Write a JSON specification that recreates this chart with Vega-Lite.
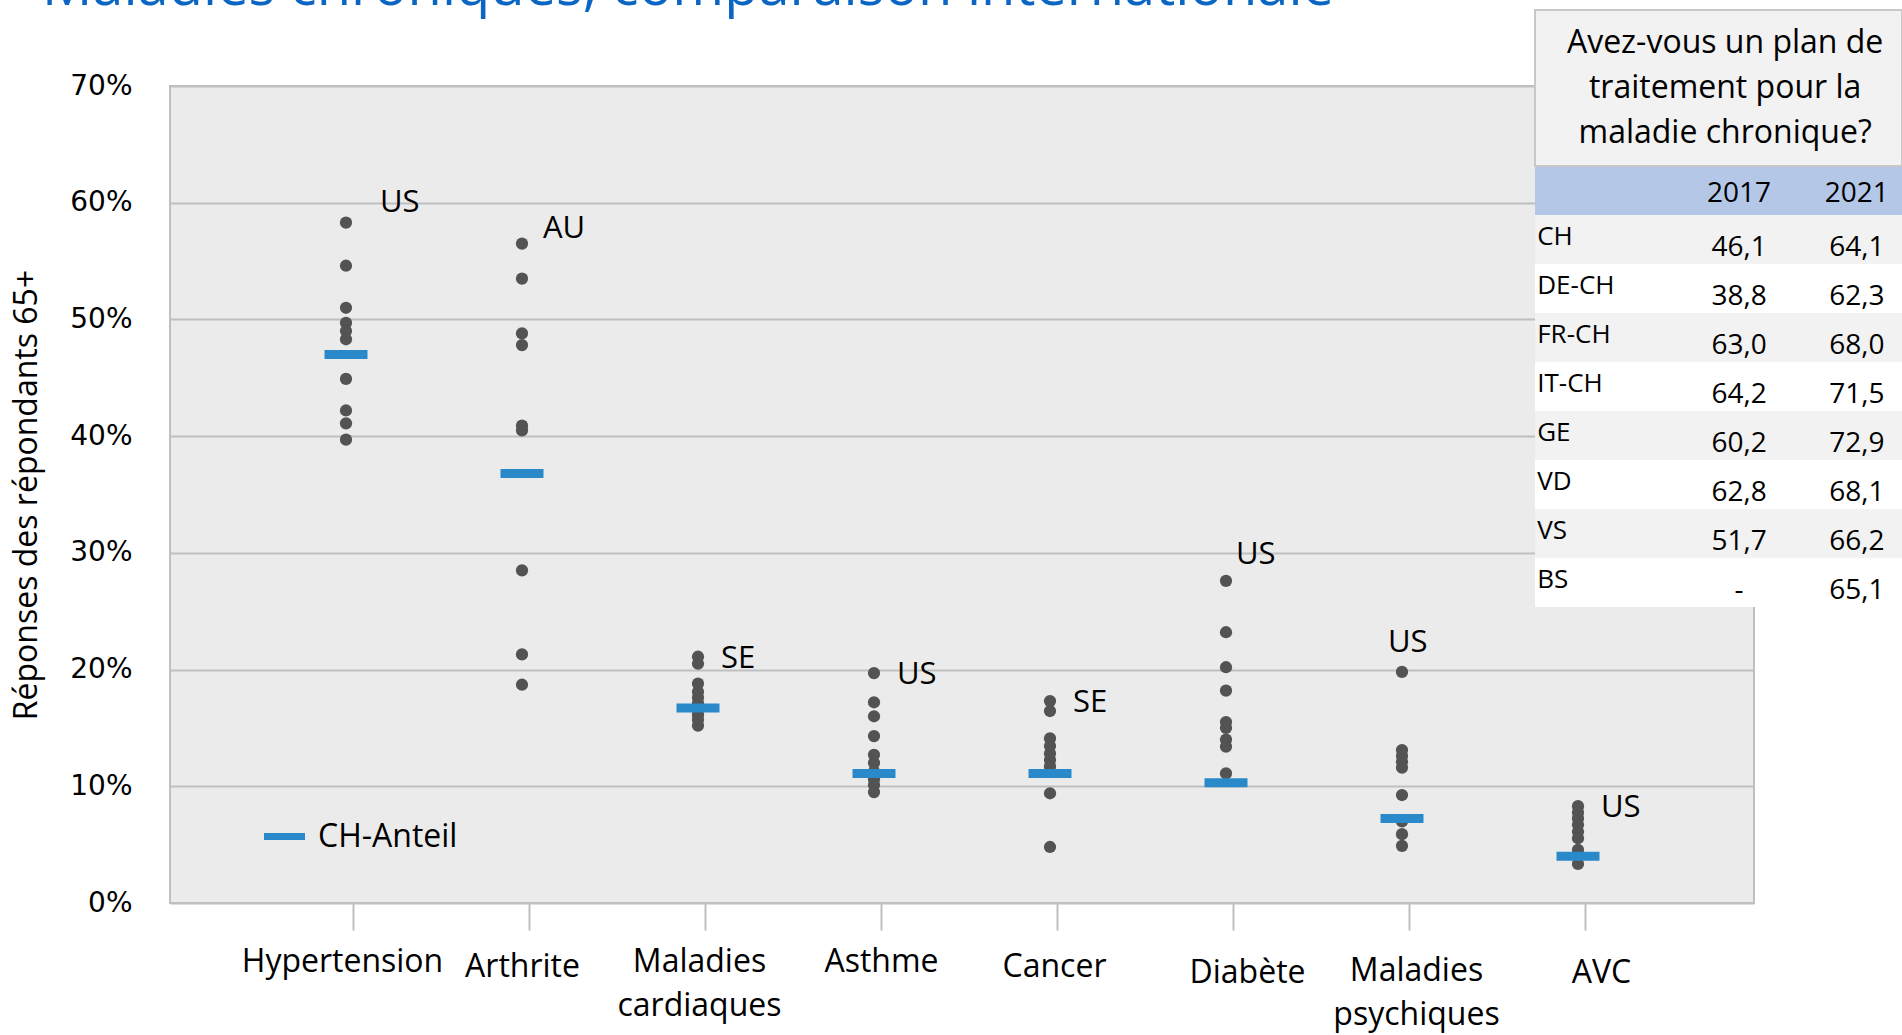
{
  "$schema": "https://vega.github.io/schema/vega-lite/v6.json",
  "width": 1584,
  "height": 817,
  "autosize": {"type": "none"},
  "padding": {"left": 170, "top": 86, "right": 148, "bottom": 132},
  "background": "white",
  "title": {
    "text": "Maladies chroniques, comparaison internationale",
    "anchor": "start",
    "frame": "group",
    "dx": -128,
    "dy": 52,
    "font": "Open Sans",
    "fontSize": 56,
    "fontWeight": "normal",
    "color": "#0a66c2",
    "baseline": "alphabetic",
    "offset": 0
  },
  "config": {
    "view": {"fill": "#ebebeb", "stroke": "#bfbfbf", "strokeWidth": 2},
    "font": "Open Sans"
  },
  "datasets": {
    "pays": [
      {"maladie": "Hypertension", "valeur": 0.583, "pays": "US"},
      {"maladie": "Hypertension", "valeur": 0.546},
      {"maladie": "Hypertension", "valeur": 0.510},
      {"maladie": "Hypertension", "valeur": 0.497},
      {"maladie": "Hypertension", "valeur": 0.490},
      {"maladie": "Hypertension", "valeur": 0.483},
      {"maladie": "Hypertension", "valeur": 0.449},
      {"maladie": "Hypertension", "valeur": 0.422},
      {"maladie": "Hypertension", "valeur": 0.411},
      {"maladie": "Hypertension", "valeur": 0.397},
      {"maladie": "Arthrite", "valeur": 0.565, "pays": "AU"},
      {"maladie": "Arthrite", "valeur": 0.535},
      {"maladie": "Arthrite", "valeur": 0.488},
      {"maladie": "Arthrite", "valeur": 0.478},
      {"maladie": "Arthrite", "valeur": 0.409},
      {"maladie": "Arthrite", "valeur": 0.405},
      {"maladie": "Arthrite", "valeur": 0.285},
      {"maladie": "Arthrite", "valeur": 0.213},
      {"maladie": "Arthrite", "valeur": 0.187},
      {"maladie": "Maladies cardiaques", "valeur": 0.211, "pays": "SE"},
      {"maladie": "Maladies cardiaques", "valeur": 0.205},
      {"maladie": "Maladies cardiaques", "valeur": 0.188},
      {"maladie": "Maladies cardiaques", "valeur": 0.181},
      {"maladie": "Maladies cardiaques", "valeur": 0.176},
      {"maladie": "Maladies cardiaques", "valeur": 0.171},
      {"maladie": "Maladies cardiaques", "valeur": 0.165},
      {"maladie": "Maladies cardiaques", "valeur": 0.161},
      {"maladie": "Maladies cardiaques", "valeur": 0.157},
      {"maladie": "Maladies cardiaques", "valeur": 0.152},
      {"maladie": "Asthme", "valeur": 0.197, "pays": "US"},
      {"maladie": "Asthme", "valeur": 0.172},
      {"maladie": "Asthme", "valeur": 0.160},
      {"maladie": "Asthme", "valeur": 0.143},
      {"maladie": "Asthme", "valeur": 0.127},
      {"maladie": "Asthme", "valeur": 0.120},
      {"maladie": "Asthme", "valeur": 0.1125},
      {"maladie": "Asthme", "valeur": 0.106},
      {"maladie": "Asthme", "valeur": 0.101},
      {"maladie": "Asthme", "valeur": 0.095},
      {"maladie": "Cancer", "valeur": 0.173, "pays": "SE"},
      {"maladie": "Cancer", "valeur": 0.1645},
      {"maladie": "Cancer", "valeur": 0.141},
      {"maladie": "Cancer", "valeur": 0.1345},
      {"maladie": "Cancer", "valeur": 0.128},
      {"maladie": "Cancer", "valeur": 0.1225},
      {"maladie": "Cancer", "valeur": 0.117},
      {"maladie": "Cancer", "valeur": 0.1125},
      {"maladie": "Cancer", "valeur": 0.094},
      {"maladie": "Cancer", "valeur": 0.048},
      {"maladie": "Diabète", "valeur": 0.276, "pays": "US"},
      {"maladie": "Diabète", "valeur": 0.232},
      {"maladie": "Diabète", "valeur": 0.202},
      {"maladie": "Diabète", "valeur": 0.182},
      {"maladie": "Diabète", "valeur": 0.155},
      {"maladie": "Diabète", "valeur": 0.150},
      {"maladie": "Diabète", "valeur": 0.140},
      {"maladie": "Diabète", "valeur": 0.134},
      {"maladie": "Diabète", "valeur": 0.111},
      {"maladie": "Maladies psychiques", "valeur": 0.198, "pays": "US"},
      {"maladie": "Maladies psychiques", "valeur": 0.131},
      {"maladie": "Maladies psychiques", "valeur": 0.126},
      {"maladie": "Maladies psychiques", "valeur": 0.121},
      {"maladie": "Maladies psychiques", "valeur": 0.116},
      {"maladie": "Maladies psychiques", "valeur": 0.0925},
      {"maladie": "Maladies psychiques", "valeur": 0.070},
      {"maladie": "Maladies psychiques", "valeur": 0.059},
      {"maladie": "Maladies psychiques", "valeur": 0.049},
      {"maladie": "AVC", "valeur": 0.083, "pays": "US"},
      {"maladie": "AVC", "valeur": 0.0775},
      {"maladie": "AVC", "valeur": 0.0725},
      {"maladie": "AVC", "valeur": 0.067},
      {"maladie": "AVC", "valeur": 0.061},
      {"maladie": "AVC", "valeur": 0.0555},
      {"maladie": "AVC", "valeur": 0.0455},
      {"maladie": "AVC", "valeur": 0.0335}
    ],
    "ch": [
      {"maladie": "Hypertension", "valeur": 0.470},
      {"maladie": "Arthrite", "valeur": 0.368},
      {"maladie": "Maladies cardiaques", "valeur": 0.167},
      {"maladie": "Asthme", "valeur": 0.111},
      {"maladie": "Cancer", "valeur": 0.111},
      {"maladie": "Diabète", "valeur": 0.103},
      {"maladie": "Maladies psychiques", "valeur": 0.0725},
      {"maladie": "AVC", "valeur": 0.040}
    ],
    "tableau": [
      {"region": "hdr", "a2017": "2017", "a2021": "2021"},
      {"region": "CH", "a2017": "46,1", "a2021": "64,1"},
      {"region": "DE-CH", "a2017": "38,8", "a2021": "62,3"},
      {"region": "FR-CH", "a2017": "63,0", "a2021": "68,0"},
      {"region": "IT-CH", "a2017": "64,2", "a2021": "71,5"},
      {"region": "GE", "a2017": "60,2", "a2021": "72,9"},
      {"region": "VD", "a2017": "62,8", "a2021": "68,1"},
      {"region": "VS", "a2017": "51,7", "a2021": "66,2"},
      {"region": "BS", "a2017": "-", "a2021": "65,1"}
    ],
    "titreTableau": [
      {"ligne": 1, "texte": "Avez-vous un plan de"},
      {"ligne": 2, "texte": "traitement pour la"},
      {"ligne": 3, "texte": "maladie chronique?"}
    ]
  },
  "layer": [
    {
      "encoding": {
        "x": {
          "field": "maladie",
          "type": "nominal",
          "scale": {
            "type": "point",
            "padding": 1,
            "domain": ["Hypertension", "Arthrite", "Maladies cardiaques", "Asthme", "Cancer", "Diabète", "Maladies psychiques", "AVC"]
          },
          "axis": {
            "title": null,
            "grid": false,
            "domain": false,
            "ticks": true,
            "tickSize": 27,
            "tickColor": "#bfbfbf",
            "tickWidth": 2,
            "tickOffset": 7,
            "labelFont": "Open Sans",
            "labelFontSize": 32,
            "labelColor": "#000000",
            "labelPadding": {
              "condition": [
                {"test": "datum.value == 'Arthrite' || datum.value == 'Cancer'", "value": 21},
                {"test": "datum.value == 'Diabète' || datum.value == 'AVC'", "value": 27},
                {"test": "datum.value == 'Maladies psychiques'", "value": 25}
              ],
              "value": 16
            },
            "labelOffset": {
              "condition": [
                {"test": "datum.value == 'Hypertension'", "value": -11},
                {"test": "datum.value == 'Arthrite'", "value": -7},
                {"test": "datum.value == 'Maladies cardiaques'", "value": -6},
                {"test": "datum.value == 'Asthme'", "value": 0},
                {"test": "datum.value == 'Cancer'", "value": -3},
                {"test": "datum.value == 'Diabète'", "value": 14},
                {"test": "datum.value == 'Maladies psychiques'", "value": 7}
              ],
              "value": 16
            },
            "labelLineHeight": 44,
            "labelAngle": 0,
            "labelLimit": 500,
            "labelOverlap": false,
            "labelBound": false,
            "labelFlush": false,
            "labelExpr": "datum.label == 'Maladies cardiaques' ? ['Maladies', 'cardiaques'] : datum.label == 'Maladies psychiques' ? ['Maladies', 'psychiques'] : datum.label"
          }
        },
        "y": {
          "field": "valeur",
          "type": "quantitative",
          "scale": {"domain": [0, 0.7], "nice": false},
          "title": "Réponses des répondants 65+",
          "axis": {
            "values": [0, 0.1, 0.2, 0.3, 0.4, 0.5, 0.6, 0.7],
            "format": ".0%",
            "domain": false,
            "ticks": false,
            "grid": true,
            "gridColor": "#bfbfbf",
            "gridWidth": 2,
            "labelFont": "DejaVu Sans",
            "labelFontSize": 28,
            "labelColor": "#000000",
            "labelPadding": 38,
            "titleFont": "Open Sans",
            "titleFontSize": 32,
            "titleFontWeight": "normal",
            "titleColor": "#000000",
            "titlePadding": 26
          }
        }
      },
      "layer": [
        {
          "data": {"name": "pays"},
          "mark": {"type": "circle", "size": 150, "color": "#535353", "opacity": 1}
        },
        {
          "data": {"name": "ch"},
          "mark": {"type": "tick", "orient": "horizontal", "size": 43, "thickness": 9, "opacity": 1},
          "encoding": {
            "color": {
              "datum": "CH-Anteil",
              "scale": {"range": ["#2a8ac9"]},
              "legend": {
                "orient": "none",
                "legendX": 94,
                "legendY": 730,
                "title": null,
                "padding": 0,
                "symbolType": "M-1,-0.17H1V0.17H-1Z",
                "symbolSize": 1681,
                "symbolOpacity": 1,
                "symbolStrokeWidth": 0,
                "labelFont": "Open Sans",
                "labelFontSize": 32,
                "labelColor": "#000000",
                "labelOffset": 13
              }
            }
          }
        },
        {
          "data": {"name": "pays"},
          "transform": [{"filter": "datum.pays != null && datum.maladie == 'Hypertension'"}],
          "mark": {"type": "text", "align": "left", "baseline": "middle", "dx": 34, "dy": -20, "fontSize": 31, "color": "#000000"},
          "encoding": {"text": {"field": "pays"}}
        },
        {
          "data": {"name": "pays"},
          "transform": [{"filter": "datum.pays != null && datum.maladie == 'Arthrite'"}],
          "mark": {"type": "text", "align": "left", "baseline": "middle", "dx": 21, "dy": -15, "fontSize": 31, "color": "#000000"},
          "encoding": {"text": {"field": "pays"}}
        },
        {
          "data": {"name": "pays"},
          "transform": [{"filter": "datum.pays != null && datum.maladie == 'Diabète'"}],
          "mark": {"type": "text", "align": "left", "baseline": "middle", "dx": 10, "dy": -26, "fontSize": 31, "color": "#000000"},
          "encoding": {"text": {"field": "pays"}}
        },
        {
          "data": {"name": "pays"},
          "transform": [{"filter": "datum.pays != null && datum.maladie == 'Maladies psychiques'"}],
          "mark": {"type": "text", "align": "left", "baseline": "middle", "dx": -14, "dy": -29, "fontSize": 31, "color": "#000000"},
          "encoding": {"text": {"field": "pays"}}
        },
        {
          "data": {"name": "pays"},
          "transform": [{"filter": "datum.pays != null && indexof(['Maladies cardiaques', 'Asthme', 'Cancer', 'AVC'], datum.maladie) >= 0"}],
          "mark": {"type": "text", "align": "left", "baseline": "middle", "dx": 23, "dy": 2, "fontSize": 31, "color": "#000000"},
          "encoding": {"text": {"field": "pays"}}
        }
      ]
    },
    {
      "data": {"name": "tableau"},
      "encoding": {
        "y": {
          "field": "region",
          "type": "ordinal",
          "sort": null,
          "scale": {"range": [80, 521], "paddingInner": 0, "paddingOuter": 0},
          "axis": null
        }
      },
      "layer": [
        {
          "mark": {"type": "rect", "fill": "#ffffff"},
          "encoding": {
            "x": {"datum": 0, "type": "quantitative", "scale": {"domain": [0, 1], "range": [1365, 1732], "nice": false, "zero": false}, "axis": null},
            "x2": {"datum": 1}
          }
        },
        {
          "transform": [{"filter": {"field": "region", "oneOf": ["CH", "FR-CH", "GE", "VS"]}}],
          "mark": {"type": "rect", "fill": "#f2f2f2"},
          "encoding": {
            "x": {"datum": 0, "type": "quantitative"},
            "x2": {"datum": 1}
          }
        },
        {
          "transform": [{"filter": "datum.region == 'hdr'"}],
          "mark": {"type": "rect", "fill": "#b4c7e7"},
          "encoding": {
            "x": {"datum": 0, "type": "quantitative"},
            "x2": {"datum": 1}
          }
        },
        {
          "transform": [{"filter": "datum.region != 'hdr'"}],
          "mark": {"type": "text", "align": "left", "baseline": "middle", "dy": -3, "fontSize": 26, "color": "#000000"},
          "encoding": {
            "x": {"datum": 0.006, "type": "quantitative"},
            "text": {"field": "region"}
          }
        },
        {
          "transform": [{"filter": "datum.region != 'hdr'"}],
          "mark": {"type": "text", "align": "center", "baseline": "middle", "dy": 8, "fontSize": 28, "color": "#000000"},
          "encoding": {
            "x": {"datum": 0.556, "type": "quantitative"},
            "text": {"field": "a2017"}
          }
        },
        {
          "transform": [{"filter": "datum.region != 'hdr'"}],
          "mark": {"type": "text", "align": "center", "baseline": "middle", "dy": 8, "fontSize": 28, "color": "#000000"},
          "encoding": {
            "x": {"datum": 0.877, "type": "quantitative"},
            "text": {"field": "a2021"}
          }
        },
        {
          "transform": [{"filter": "datum.region == 'hdr'"}],
          "mark": {"type": "text", "align": "center", "baseline": "middle", "dy": 3, "fontSize": 28, "color": "#000000"},
          "encoding": {
            "x": {"datum": 0.556, "type": "quantitative"},
            "text": {"field": "a2017"}
          }
        },
        {
          "transform": [{"filter": "datum.region == 'hdr'"}],
          "mark": {"type": "text", "align": "center", "baseline": "middle", "dy": 3, "fontSize": 28, "color": "#000000"},
          "encoding": {
            "x": {"datum": 0.877, "type": "quantitative"},
            "text": {"field": "a2021"}
          }
        }
      ]
    },
    {
      "layer": [
        {
          "data": {"values": [{}]},
          "mark": {"type": "rect", "fill": "#f2f2f2", "stroke": "#c8c8c8", "strokeWidth": 2},
          "encoding": {
            "x": {"datum": 0, "type": "quantitative", "scale": {"domain": [0, 1], "range": [1365, 1732], "nice": false, "zero": false}, "axis": null},
            "x2": {"datum": 1},
            "y": {"datum": 0.25, "type": "quantitative", "scale": {"domain": [0.25, 3.75], "range": [-76, 80], "nice": false, "zero": false}, "axis": null},
            "y2": {"datum": 3.75}
          }
        },
        {
          "data": {"name": "titreTableau"},
          "mark": {"type": "text", "align": "center", "baseline": "middle", "fontSize": 32, "color": "#000000"},
          "encoding": {
            "x": {"datum": 0.518, "type": "quantitative"},
            "y": {"field": "ligne", "type": "quantitative"},
            "text": {"field": "texte"}
          }
        }
      ]
    }
  ],
  "resolve": {"scale": {"x": "independent", "y": "independent"}}
}
